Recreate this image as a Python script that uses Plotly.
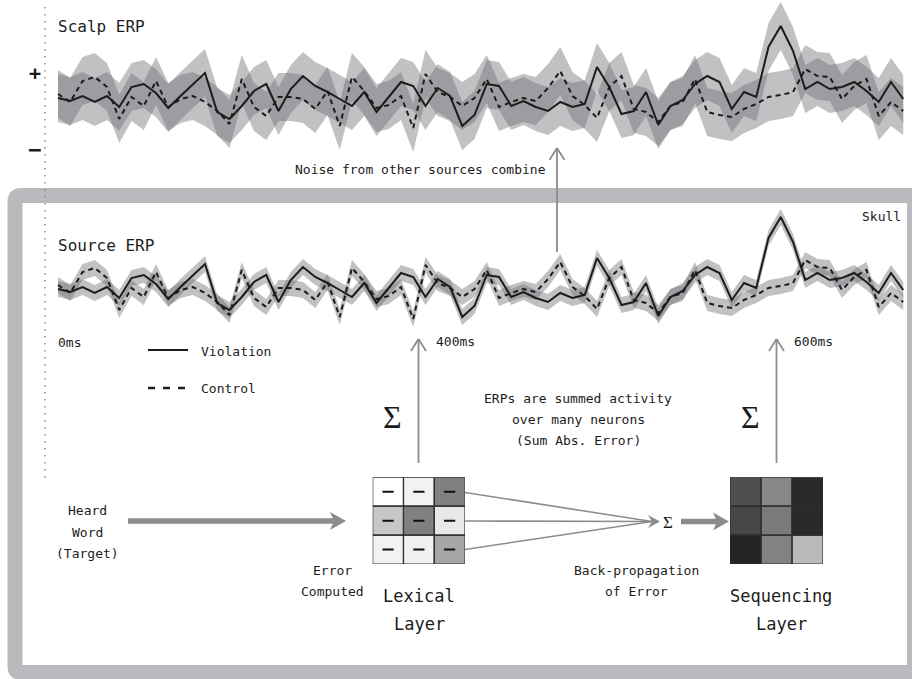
import plotly.graph_objects as go

# ERP amplitude per sample (arbitrary units, positive up)
violation = [0.1, -0.2, 0.3, -0.3, 0.3, -0.8, 1.2, 1.5, 0.6, -0.9,
             0.3, 1.5, 2.6, -1.3, -2.0, -0.7, 0.8, 1.5, -1.2, 1.0,
             2.3, 1.3, 0.7, 0.0, -0.7, 0.7, -1.3, 0.2, 1.7, 1.3,
             -0.7, 1.1, 0.3, -2.7, -1.6, 1.5, 1.3, -0.7, -0.2, -0.8,
             -1.2, -0.3, -0.8, -0.5, 3.2, 1.2, -1.5, -1.2, 0.7, -2.6,
             -0.7, -0.1, 1.5, 2.3, 1.7, -1.0, 0.7, 0.2, 5.2, 7.3,
             4.8, 1.0, 1.7, 1.0, 1.2, 1.7, 0.8, -0.3, 1.7, 0.0]
control = [0.5, -0.3, 1.8, 2.2, 1.2, -2.0, 0.2, -0.7, 1.8, -0.8,
           0.0, 0.3, -0.3, -1.2, -2.5, 2.0, -0.8, -1.7, 0.2, 0.2,
           0.0, -1.0, 0.8, -2.7, 2.2, 0.8, -0.9, -0.6, 0.3, -2.9,
           2.5, 0.7, 0.2, -0.7, 0.1, 2.0, -0.8, -0.3, 0.1, -0.2,
           1.1, 2.8, 0.3, -0.6, -1.9, 1.2, 2.3, -1.0, -1.3, -2.3,
           -0.7, -0.3, 2.0, -1.3, -1.6, -1.8, -1.0, -0.5, 0.2, 0.4,
           0.7, 3.0, 2.3, 2.2, 0.0, 1.3, 2.0, -1.7, -0.3, -1.2]
samples = list(range(len(violation)))

# spread of the averaged signal at the source and after mixing at the scalp
source_spread = 0.8
scalp_spread = 2.4

# unit activations (0 = silent, 1 = maximal)
lexical_error = [[0.00, 0.05, 0.50],
                 [0.22, 0.50, 0.09],
                 [0.05, 0.06, 0.35]]
sequencing_act = [[0.69, 0.47, 0.84],
                  [0.72, 0.52, 0.84],
                  [0.86, 0.49, 0.27]]

W, H = 912, 679
FONT = "DejaVu Sans Mono"
INK = "#1c1c1c"
ARROW = "#8c8c8c"
FRAME = "#b9babd"
BAND = "rgba(105,107,112,0.42)"

fig = go.Figure()


def add_band(xa, ya, ys, hw):
    xs = samples + samples[::-1]
    yy = [v + hw for v in ys] + [v - hw for v in ys][::-1]
    fig.add_trace(go.Scatter(x=xs, y=yy, fill="toself", fillcolor=BAND,
                             line=dict(width=0), mode="lines",
                             hoverinfo="skip", xaxis=xa, yaxis=ya))


def add_waves(xa, ya, hw):
    add_band(xa, ya, violation, hw)
    add_band(xa, ya, control, hw)
    fig.add_trace(go.Scatter(x=samples, y=violation, mode="lines",
                             line=dict(color=INK, width=2), name="Violation",
                             xaxis=xa, yaxis=ya))
    fig.add_trace(go.Scatter(x=samples, y=control, mode="lines",
                             line=dict(color=INK, width=2, dash="5px,4px"),
                             name="Control", xaxis=xa, yaxis=ya))


add_waves("x", "y", scalp_spread)
add_waves("x2", "y2", source_spread)

gray = [[0, "#ffffff"], [1, "#000000"]]
for grid, xa, ya in [(lexical_error, "x4", "y4"), (sequencing_act, "x5", "y5")]:
    fig.add_trace(go.Heatmap(z=grid, x=[0, 1, 2], y=[0, 1, 2], zmin=0, zmax=1,
                             colorscale=gray, showscale=False,
                             hoverinfo="skip", xaxis=xa, yaxis=ya))

# error sign marks on every lexical unit
fig.add_trace(go.Scatter(x=[c for r in range(3) for c in range(3)],
                         y=[r for r in range(3) for c in range(3)],
                         mode="markers", xaxis="x4", yaxis="y4",
                         marker=dict(symbol="line-ew", size=8,
                                     line=dict(width=2, color="#111111")),
                         hoverinfo="skip"))

shapes = []


def cline(x0, y0, x1, y1, color=ARROW, width=1.8, dash=None):
    d = dict(type="line", xref="x3", yref="y3", x0=x0, y0=y0, x1=x1, y1=y1,
             line=dict(color=color, width=width))
    if dash:
        d["line"]["dash"] = dash
    shapes.append(d)


def up_arrow(x, y_tail, y_tip):
    cline(x, y_tail, x, y_tip)
    cline(x, y_tip, x - 7.5, y_tip + 12)
    cline(x, y_tip, x + 7.5, y_tip + 12)


def head(x_tip, y, length, half):
    path = (f"M {x_tip - length} {y - half} L {x_tip} {y} "
            f"L {x_tip - length} {y + half} L {x_tip - length + 4} {y} Z")
    shapes.append(dict(type="path", xref="x3", yref="y3", path=path,
                       fillcolor=ARROW, line=dict(width=0)))


# skull outline
shapes.append(dict(type="path", xref="x3", yref="y3",
                   path=("M 15 201 Q 15 195.5 21 195.5 L 908.5 195.5 "
                         "Q 914.5 195.5 914.5 201 L 914.5 667 "
                         "Q 914.5 672.5 908.5 672.5 L 21 672.5 "
                         "Q 15 672.5 15 667 Z"),
                   line=dict(color=FRAME, width=15)))

# dotted amplitude reference
cline(45, 7, 45, 482, color="#8a8a8a", width=1.5, dash="1.5px,5.5px")

# arrows
up_arrow(557, 252, 148)
up_arrow(418.5, 463, 339)
up_arrow(776.5, 463, 339)

cline(128, 521, 336, 521, width=5.5)
head(346, 521, 16, 9)
for y0 in (492.5, 521, 549.5):
    cline(465, y0, 652, 521.5, width=1.6)
head(660, 521.5, 12, 6.5)
cline(681, 521.5, 718, 521.5, width=5.5)
head(729, 521.5, 16, 9)

# unit borders
for xa, ya in [("x4", "y4"), ("x5", "y5")]:
    for r in range(3):
        for c in range(3):
            shapes.append(dict(type="rect", xref=xa, yref=ya,
                               x0=c - 0.5, x1=c + 0.5, y0=r - 0.5, y1=r + 0.5,
                               line=dict(color="#2e2e2e", width=1.2)))

ann = []


def text(s, x, y, size=13, anchor="center", family=FONT, color=INK):
    ann.append(dict(text=s, x=x, y=y, xref="x3", yref="y3", showarrow=False,
                    xanchor=anchor, yanchor="middle",
                    font=dict(family=family, size=size, color=color)))


text("Scalp ERP", 56, 26, size=16, anchor="left")
text("<b>+</b>", 35, 73, size=20)
text("<b>\u2212</b>", 34, 149, size=22)
text("Noise from other sources combine", 420, 169)
text("Skull", 903, 216, anchor="right")
text("Source ERP", 56, 245, size=16, anchor="left")
text("0ms", 56, 342, anchor="left")
text("400ms", 434, 341, anchor="left")
text("600ms", 792, 341, anchor="left")

# legend
cline(148, 350, 188, 350, color=INK, width=2)
cline(148, 388, 188, 388, color=INK, width=2.4, dash="7px,8px")
text("Violation", 199, 351, anchor="left")
text("Control", 199, 388, anchor="left")

text("\u03a3", 392, 417, size=32, family="Liberation Serif")
text("\u03a3", 750, 417, size=32, family="Liberation Serif")
text("\u03a3", 668, 522, size=17, family="Liberation Serif")

text("ERPs are summed activity", 578, 398)
text("over many neurons", 578, 419)
text("(Sum Abs. Error)", 578, 440)

text("Heard", 87, 510)
text("Word", 87, 532)
text("(Target)", 87, 553)
text("Error", 332, 570)
text("Computed", 332, 591)
text("Lexical", 419, 596, size=17)
text("Layer", 419, 624, size=17)
text("Back-propagation", 636, 570)
text("of Error", 636, 591)
text("Sequencing", 781, 596, size=17)
text("Layer", 781, 624, size=17)

x0, px = 58.0, 12.25  # first sample position and spacing
xr = [(50 - x0) / px, (W - x0) / px]


def ydom(top, bottom):
    return [1 - bottom / H, 1 - top / H]


hidden = dict(visible=False, showgrid=False, zeroline=False)
fig.update_layout(
    width=W, height=H, margin=dict(l=0, r=0, t=0, b=0, pad=0),
    paper_bgcolor="white", plot_bgcolor="rgba(0,0,0,0)", showlegend=False,
    xaxis=dict(domain=[50 / W, 1], range=xr, **hidden),
    yaxis=dict(domain=ydom(0, 180), range=[-8.1, 9.9], **hidden),
    xaxis2=dict(domain=[50 / W, 1], range=xr, anchor="y2", **hidden),
    yaxis2=dict(domain=ydom(200, 340), range=[-5, 9], anchor="x2", **hidden),
    xaxis3=dict(domain=[0, 1], range=[0, W], anchor="y3", **hidden),
    yaxis3=dict(domain=[0, 1], range=[H, 0], anchor="x3", **hidden),
    xaxis4=dict(domain=[372.7 / W, 465 / W], range=[-0.5, 2.5], anchor="y4", **hidden),
    yaxis4=dict(domain=ydom(477.3, 564), range=[2.5, -0.5], anchor="x4", **hidden),
    xaxis5=dict(domain=[730 / W, 823 / W], range=[-0.5, 2.5], anchor="y5", **hidden),
    yaxis5=dict(domain=ydom(477.3, 564), range=[2.5, -0.5], anchor="x5", **hidden),
    shapes=shapes, annotations=ann,
)

fig.write_html("out.html")
